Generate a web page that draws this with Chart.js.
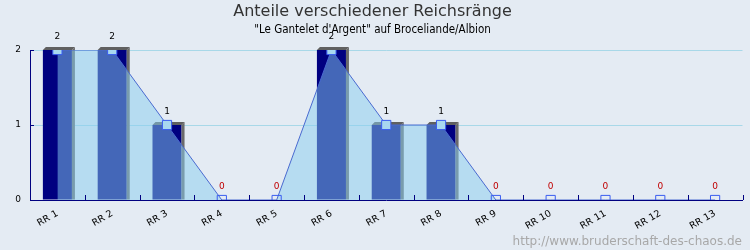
<!DOCTYPE html>
<html>
<head>
<meta charset="utf-8">
<script src="https://cdn.jsdelivr.net/npm/chart.js@4"></script>
<style>
  body { margin: 0; background: #e4ebf3; }
  canvas { display: block; }
</style>
</head>
<body>
<canvas id="chart" width="750" height="250"></canvas>
<script>
const ranks = ["RR 1", "RR 2", "RR 3", "RR 4", "RR 5", "RR 6", "RR 7", "RR 8", "RR 9", "RR 10", "RR 11", "RR 12", "RR 13"];
const counts = [2, 2, 1, 0, 0, 2, 1, 1, 0, 0, 0, 0, 0];
const yTicks = [0, 1, 2];

const navy = "#000080";

// background colour of the whole picture
const background = {
  id: "background",
  beforeDraw(chart) {
    const ctx = chart.ctx;
    ctx.save();
    ctx.fillStyle = "#e4ebf3";
    ctx.fillRect(0, 0, chart.width, chart.height);
    ctx.restore();
  }
};

// fake 3d top and side for the bars (bar dataset is index 1)
const bar3d = {
  id: "bar3d",
  afterDatasetDraw(chart, args) {
    if (args.index !== 1) return;
    const ctx = chart.ctx;
    const d = 3;
    args.meta.data.forEach(bar => {
      const { x, y, base, width } = bar.getProps(["x", "y", "base", "width"], true);
      if (base - y < 1) return;
      const l = x - width / 2, r = x + width / 2;
      ctx.save();
      ctx.fillStyle = "#606060";
      ctx.beginPath();
      ctx.moveTo(l, y);
      ctx.lineTo(l + d, y - d);
      ctx.lineTo(r + d, y - d);
      ctx.lineTo(r, y);
      ctx.closePath();
      ctx.fill();
      ctx.fillStyle = "#6a6a6a";
      ctx.beginPath();
      ctx.moveTo(r, y);
      ctx.lineTo(r + d, y - d);
      ctx.lineTo(r + d, base);
      ctx.lineTo(r, base);
      ctx.closePath();
      ctx.fill();
      ctx.restore();
    });
  }
};

// inward tick marks, value labels and the site note
const extras = {
  id: "extras",
  afterDatasetsDraw(chart) {
    const ctx = chart.ctx;
    const { left, right, bottom } = chart.chartArea;
    const ys = chart.scales.y;
    ctx.save();
    ctx.strokeStyle = navy;
    ctx.lineWidth = 1;
    ctx.beginPath();
    for (let i = 1; i <= ranks.length; i++) {
      const px = Math.round(left + (right - left) * i / ranks.length) + 0.5;
      ctx.moveTo(px, bottom);
      ctx.lineTo(px, bottom - 5);
    }
    yTicks.forEach(v => {
      const py = Math.round(ys.getPixelForValue(v)) + 0.5;
      ctx.moveTo(left, py);
      ctx.lineTo(left + 4, py);
    });
    ctx.stroke();

    const meta = chart.getDatasetMeta(0);
    ctx.font = "9px 'DejaVu Sans'";
    ctx.textAlign = "center";
    ctx.textBaseline = "middle";
    meta.data.forEach((pt, i) => {
      ctx.fillStyle = counts[i] > 0 ? "#000000" : "#c00000";
      ctx.fillText(String(counts[i]), pt.x, pt.y - 13);
    });
    ctx.restore();
  },
  afterDraw(chart) {
    const ctx = chart.ctx;
    ctx.save();
    ctx.font = "12px 'DejaVu Sans'";
    ctx.fillStyle = "#a8a8a8";
    ctx.textAlign = "right";
    ctx.textBaseline = "alphabetic";
    ctx.fillText("http://www.bruderschaft-des-chaos.de", 742, 245);
    ctx.restore();
  }
};

new Chart(document.getElementById("chart"), {
  data: {
    labels: ranks,
    datasets: [
      {
        type: "line",
        order: 0,
        data: counts,
        fill: "origin",
        backgroundColor: "rgba(135, 205, 240, 0.5)",
        borderColor: "#4a6ad0",
        borderWidth: 1,
        tension: 0,
        pointStyle: "rect",
        pointRadius: 6.5,
        pointBorderWidth: 1,
        pointBorderColor: "#3a5cf0",
        pointBackgroundColor: counts.map(v => v > 0 ? "#a8d8f0" : "rgba(0,0,0,0)")
      },
      {
        type: "bar",
        order: 1,
        data: counts,
        backgroundColor: navy,
        borderWidth: 0,
        categoryPercentage: 1,
        barPercentage: 0.53
      }
    ]
  },
  options: {
    responsive: false,
    devicePixelRatio: 1,
    animation: false,
    layout: { padding: { top: 0, right: 5, bottom: 0, left: 0 } },
    plugins: {
      legend: { display: false },
      tooltip: { enabled: false },
      title: {
        display: true,
        text: "Anteile verschiedener Reichsränge",
        color: "#333",
        font: { family: "'DejaVu Sans'", size: 16, weight: "normal" },
        padding: { top: 2, bottom: 2 }
      },
      subtitle: {
        display: true,
        text: "\"Le Gantelet d'Argent\" auf Broceliande/Albion",
        color: "#000",
        font: { family: "'DejaVu Sans Condensed', 'DejaVu Sans'", size: 11.5 },
        padding: { top: 0, bottom: 13 }
      }
    },
    scales: {
      x: {
        offset: true,
        grid: { display: false, drawTicks: false },
        border: { color: navy },
        afterFit: (s) => { s.height = 50; },
        ticks: {
          minRotation: 30,
          maxRotation: 30,
          padding: 8,
          color: "#000",
          font: { family: "'DejaVu Sans'", size: 9.5 }
        }
      },
      y: {
        min: 0,
        max: 2,
        afterFit: (s) => { s.width = 30; },
        afterBuildTicks: (s) => { s.ticks = yTicks.map(v => ({ value: v })); },
        grid: {
          drawTicks: false,
          color: (c) => c.tick && c.tick.value > 0 ? "#a8d8e8" : "rgba(0,0,0,0)"
        },
        border: { color: navy },
        ticks: {
          padding: 9,
          color: "#000",
          font: { family: "'DejaVu Sans'", size: 9 }
        }
      }
    }
  },
  plugins: [background, bar3d, extras]
});
</script>
</body>
</html>
